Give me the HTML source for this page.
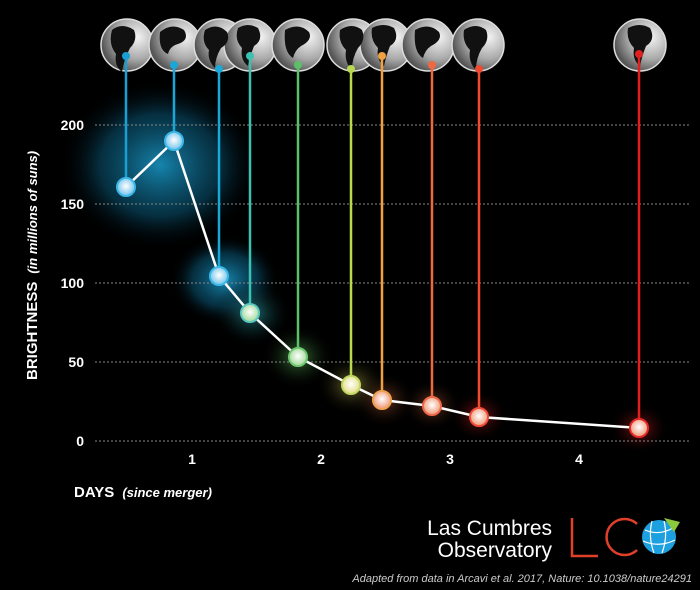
<!DOCTYPE html>
<html><head><style>
body{margin:0;background:#000;}
</style></head><body>
<svg width="700" height="590" viewBox="0 0 700 590" xmlns="http://www.w3.org/2000/svg" style="display:block">
<defs>
<radialGradient id="gb" cx="0.5" cy="0.5" r="0.5"><stop offset="0" stop-color="#1a9ccc" stop-opacity="0.85"/><stop offset="0.6" stop-color="#0b5e80" stop-opacity="0.5"/><stop offset="1" stop-color="#000" stop-opacity="0"/></radialGradient>
<radialGradient id="gt" cx="0.5" cy="0.5" r="0.5"><stop offset="0" stop-color="#2aa0a8" stop-opacity="0.7"/><stop offset="1" stop-color="#000" stop-opacity="0"/></radialGradient>
<radialGradient id="gg" cx="0.5" cy="0.5" r="0.5"><stop offset="0" stop-color="#60c060" stop-opacity="0.6"/><stop offset="1" stop-color="#000" stop-opacity="0"/></radialGradient>
<radialGradient id="gy" cx="0.5" cy="0.5" r="0.5"><stop offset="0" stop-color="#c8c050" stop-opacity="0.55"/><stop offset="1" stop-color="#000" stop-opacity="0"/></radialGradient>
<radialGradient id="go" cx="0.5" cy="0.5" r="0.5"><stop offset="0" stop-color="#e07040" stop-opacity="0.5"/><stop offset="1" stop-color="#000" stop-opacity="0"/></radialGradient>
<radialGradient id="gr" cx="0.5" cy="0.5" r="0.5"><stop offset="0" stop-color="#e02020" stop-opacity="0.6"/><stop offset="1" stop-color="#000" stop-opacity="0"/></radialGradient>
<radialGradient id="globe" cx="0.7" cy="0.35" r="0.7"><stop offset="0" stop-color="#f4f4f4"/><stop offset="0.6" stop-color="#aaa"/><stop offset="1" stop-color="#555"/></radialGradient>
<radialGradient id="pb" cx="0.5" cy="0.45" r="0.5"><stop offset="0" stop-color="#fff"/><stop offset="1" stop-color="#7cc8ec"/></radialGradient>
<radialGradient id="pg" cx="0.5" cy="0.45" r="0.5"><stop offset="0" stop-color="#fff"/><stop offset="1" stop-color="#a8dca0"/></radialGradient>
<radialGradient id="py" cx="0.5" cy="0.45" r="0.5"><stop offset="0" stop-color="#fff"/><stop offset="1" stop-color="#e8e090"/></radialGradient>
<radialGradient id="po" cx="0.5" cy="0.45" r="0.5"><stop offset="0" stop-color="#fff"/><stop offset="1" stop-color="#f0a080"/></radialGradient>
</defs>
<!-- glows -->
<ellipse cx="160" cy="165" rx="100" ry="85" fill="url(#gb)"/>
<ellipse cx="225" cy="280" rx="55" ry="45" fill="url(#gb)"/>
<ellipse cx="252" cy="313" rx="40" ry="34" fill="url(#gt)"/>
<ellipse cx="298" cy="357" rx="36" ry="32" fill="url(#gg)"/>
<ellipse cx="352" cy="385" rx="36" ry="30" fill="url(#gy)"/>
<ellipse cx="384" cy="400" rx="32" ry="28" fill="url(#go)"/>
<ellipse cx="432" cy="405" rx="30" ry="26" fill="url(#go)"/>
<ellipse cx="479" cy="416" rx="30" ry="26" fill="url(#gr)"/>
<ellipse cx="639" cy="428" rx="30" ry="26" fill="url(#gr)"/>
<!-- grid -->
<g stroke="#888" stroke-width="1" stroke-dasharray="2,2">
<line x1="95" y1="125" x2="690" y2="125"/><line x1="95" y1="204" x2="690" y2="204"/><line x1="95" y1="283" x2="690" y2="283"/><line x1="95" y1="362" x2="690" y2="362"/><line x1="95" y1="441" x2="690" y2="441"/>
</g>
<g font-family="Liberation Sans, sans-serif" font-weight="bold" font-size="14" fill="#fff" text-anchor="end">
<text x="84" y="130">200</text><text x="84" y="209">150</text><text x="84" y="288">100</text><text x="84" y="367">50</text><text x="84" y="446">0</text>
</g>
<g font-family="Liberation Sans, sans-serif" font-weight="bold" font-size="14" fill="#fff" text-anchor="middle">
<text x="192" y="464">1</text><text x="321" y="464">2</text><text x="450" y="464">3</text><text x="579" y="464">4</text>
</g>
<text transform="translate(37,380) rotate(-90)" font-family="Liberation Sans, sans-serif" font-size="14" fill="#fff"><tspan font-weight="bold" font-size="15">BRIGHTNESS</tspan><tspan font-style="italic" font-weight="bold" dx="8" font-size="13">(in millions of suns)</tspan></text>
<text x="74" y="497" font-family="Liberation Sans, sans-serif" fill="#fff"><tspan font-weight="bold" font-size="15">DAYS</tspan><tspan font-style="italic" font-weight="bold" font-size="13" dx="8">(since merger)</tspan></text>
<!-- globes -->
<g stroke="#ddd" stroke-width="1.5">
<circle cx="127" cy="45" r="26" fill="url(#globe)"/><circle cx="175" cy="45" r="26" fill="url(#globe)"/><circle cx="220" cy="45" r="26" fill="url(#globe)"/><circle cx="250" cy="45" r="26" fill="url(#globe)"/><circle cx="298" cy="45" r="26" fill="url(#globe)"/><circle cx="353" cy="45" r="26" fill="url(#globe)"/><circle cx="386" cy="45" r="26" fill="url(#globe)"/><circle cx="428" cy="45" r="26" fill="url(#globe)"/><circle cx="478" cy="45" r="26" fill="url(#globe)"/><circle cx="640" cy="45" r="26" fill="url(#globe)"/>
</g>
<g fill="#111">
<path d="M112 30 q10 -8 22 0 q4 10 -4 18 q-6 12 -8 24 q-8 -6 -6 -18 q-8 -10 -4 -24z"/>
<path d="M160 32 q12 -10 24 -2 q6 10 -6 14 q-8 2 -10 10 q-10 -4 -8 -22z"/>
<path d="M205 30 q12 -8 22 2 q4 10 -6 16 q-6 10 -6 20 q-8 -8 -6 -18 q-8 -8 -4 -20z"/>
<path d="M238 28 q10 -6 20 0 q6 12 -4 18 q-4 10 -6 20 q-8 -6 -6 -18 q-8 -8 -4 -20z"/>
<path d="M285 30 q14 -8 24 2 q4 8 -8 14 q-6 4 -8 12 q-10 -6 -8 -28z"/>
<path d="M340 30 q12 -8 22 0 q4 10 -4 18 q-6 10 -6 22 q-8 -8 -6 -20 q-8 -8 -6 -20z"/>
<path d="M372 28 q12 -6 22 0 q6 12 -4 18 q-4 10 -6 20 q-8 -6 -6 -18 q-8 -8 -6 -20z"/>
<path d="M415 30 q14 -8 24 2 q4 8 -8 14 q-6 4 -8 12 q-10 -6 -8 -28z"/>
<path d="M464 30 q12 -8 22 0 q4 10 -4 18 q-6 10 -6 22 q-8 -8 -6 -20 q-8 -8 -6 -20z"/>
<path d="M628 28 q12 -6 22 0 q6 12 -4 18 q-4 10 -6 20 q-8 -6 -6 -18 q-8 -8 -6 -20z"/>
</g>
<!-- pins -->
<g stroke-width="2.5">
<line x1="126" y1="56" x2="126" y2="187" stroke="#1a9fd4"/><circle cx="126" cy="56" r="4" fill="#1a9fd4"/>
<line x1="174" y1="65" x2="174" y2="141" stroke="#1aa6d6"/><circle cx="174" cy="65" r="4" fill="#1aa6d6"/>
<line x1="219" y1="69" x2="219" y2="276" stroke="#1aa8d8"/><circle cx="219" cy="69" r="4" fill="#1aa8d8"/>
<line x1="250" y1="56" x2="250" y2="313" stroke="#3cc0b0"/><circle cx="250" cy="56" r="4" fill="#3cc0b0"/>
<line x1="298" y1="65" x2="298" y2="357" stroke="#5cc068"/><circle cx="298" cy="65" r="4" fill="#5cc068"/>
<line x1="351" y1="69" x2="351" y2="385" stroke="#b8d850"/><circle cx="351" cy="69" r="4" fill="#b8d850"/>
<line x1="382" y1="56" x2="382" y2="400" stroke="#f0a040"/><circle cx="382" cy="56" r="4" fill="#f0a040"/>
<line x1="432" y1="65" x2="432" y2="406" stroke="#f06840"/><circle cx="432" cy="65" r="4" fill="#f06840"/>
<line x1="479" y1="69" x2="479" y2="417" stroke="#f04a30"/><circle cx="479" cy="69" r="4" fill="#f04a30"/>
<line x1="639" y1="54" x2="639" y2="428" stroke="#e02020"/><circle cx="639" cy="54" r="4" fill="#e02020"/>
</g>
<polyline points="126,187 174,141 219,276 250,313 298,357 351,385 382,400 432,406 479,417 639,428" fill="none" stroke="#fff" stroke-width="2.5"/>
<g stroke-width="2">
<circle cx="126" cy="187" r="9" stroke="#3ab8e8" fill="url(#pb)"/><circle cx="174" cy="141" r="9" stroke="#3ab8e8" fill="url(#pb)"/><circle cx="219" cy="276" r="9" stroke="#3ab8e8" fill="url(#pb)"/><circle cx="250" cy="313" r="9" stroke="#5cc8c0" fill="url(#pg)"/><circle cx="298" cy="357" r="9" stroke="#70c870" fill="url(#pg)"/><circle cx="351" cy="385" r="9" stroke="#c0d860" fill="url(#py)"/><circle cx="382" cy="400" r="9" stroke="#f0a050" fill="url(#po)"/><circle cx="432" cy="406" r="9" stroke="#f06848" fill="url(#po)"/><circle cx="479" cy="417" r="9" stroke="#f04a38" fill="url(#po)"/><circle cx="639" cy="428" r="9" stroke="#e82828" fill="url(#po)"/>
</g>
<!-- logo -->
<g font-family="Liberation Sans, sans-serif" fill="#fff" font-size="21" text-anchor="end">
<text x="552" y="535">Las Cumbres</text><text x="552" y="557">Observatory</text>
</g>
<path d="M572 518 V556 H598" fill="none" stroke="#e0402a" stroke-width="2.5"/>
<path d="M637 524 A18 18 0 1 0 637 550" fill="none" stroke="#e0402a" stroke-width="2.5"/>
<circle cx="659" cy="537" r="17" fill="#1da0e0"/>
<g stroke="#fff" stroke-width="1.2" fill="none"><path d="M645 530 Q659 536 673 528"/><path d="M643 541 Q659 548 675 540"/><path d="M652 521 Q648 537 654 553"/><path d="M664 521 Q668 537 662 553"/></g>
<path d="M664 518 L680 522 L674 532z" fill="#8cc83c"/>
<text x="692" y="582" text-anchor="end" font-family="Liberation Sans, sans-serif" font-style="italic" font-size="11" fill="#ccc">Adapted from data in Arcavi et al. 2017, Nature: 10.1038/nature24291</text>
</svg>
</body></html>
